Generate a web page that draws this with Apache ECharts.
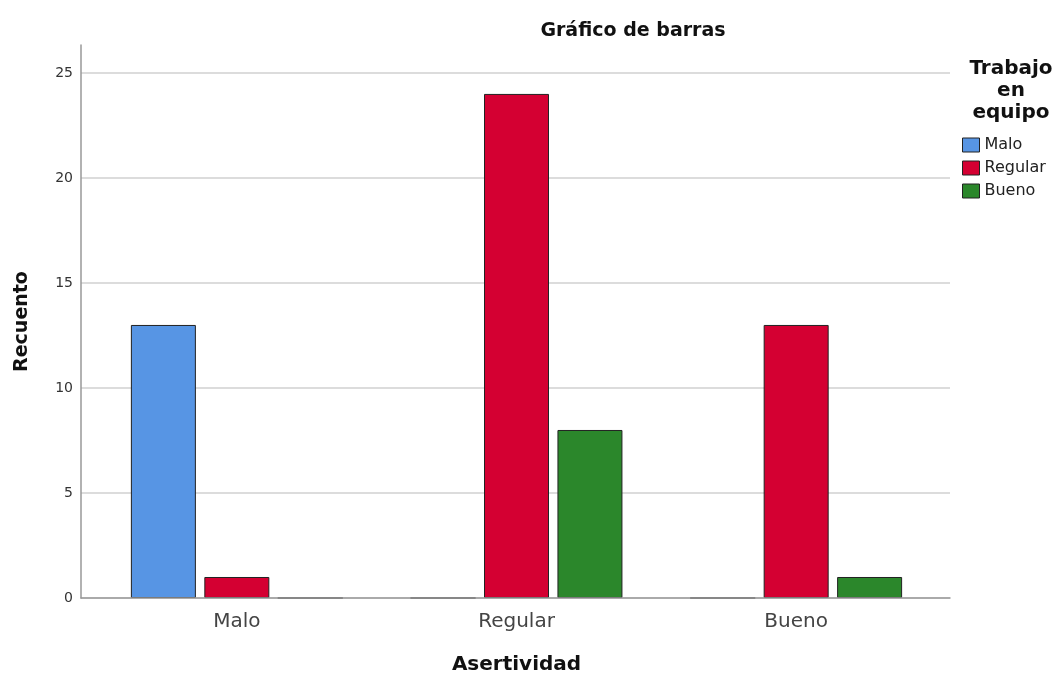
<!DOCTYPE html>
<html>
<head>
<meta charset="utf-8">
<script src="https://cdn.jsdelivr.net/npm/echarts@6/dist/echarts.min.js"></script>
<style>
html,body{margin:0;padding:0;background:#fff;}
#chart{width:1053px;height:674px;}
</style>
</head>
<body>
<div id="chart"></div>
<script>
var categories = ['Malo', 'Regular', 'Bueno'];
var seriesNames = ['Malo', 'Regular', 'Bueno'];
var valuesMalo = [13, 0, 0];
var valuesRegular = [1, 24, 13];
var valuesBueno = [0, 8, 1];
var yTicks = [0, 5, 10, 15, 20, 25];
var colors = ['#5795e4', '#d40032', '#2b872b'];

var FONT = '"DejaVu Sans", sans-serif';
var Y_MAX = 26.33;

var chart = echarts.init(document.getElementById('chart'), null, {renderer: 'canvas'});

function mkSeries(name, data, color) {
  return {
    name: name,
    type: 'bar',
    xAxisIndex: 0,
    yAxisIndex: 0,
    data: data,
    barWidth: 65,
    barGap: '13%',
    itemStyle: {color: color, borderColor: '#222', borderWidth: 1},
    emphasis: {disabled: true},
    animation: false
  };
}

var option = {
  animation: false,
  textStyle: {fontFamily: FONT},
  title: [
    {
      text: 'Gráfico de barras',
      left: 628, top: 17, textAlign: 'center',
      textStyle: {fontFamily: FONT, fontSize: 19, fontWeight: 'bold', color: '#111'}
    },
    {
      text: 'Trabajo\nen\nequipo',
      left: 1006, top: 53, textAlign: 'center',
      textStyle: {fontFamily: FONT, fontSize: 20, fontWeight: 'bold', color: '#111', lineHeight: 22}
    }
  ],
  legend: {
    orient: 'vertical',
    left: 962, top: 136,
    padding: 0,
    itemWidth: 17, itemHeight: 14, itemGap: 5,
    icon: 'rect',
    data: seriesNames,
    selectedMode: false,
    textStyle: {fontFamily: FONT, fontSize: 16, lineHeight: 18, color: '#222', padding: [0, 0, 0, 0]},
    itemStyle: {borderColor: '#222', borderWidth: 1}
  },
  grid: [
    {left: 97, right: 117, top: 45, bottom: 76, outerBoundsMode: 'none', containLabel: false},
    {left: 81, right: 103, top: 45, bottom: 76, outerBoundsMode: 'none', containLabel: false}
  ],
  xAxis: [
    {
      type: 'category', gridIndex: 0, data: categories,
      axisLine: {show: false}, axisTick: {show: false},
      axisLabel: {fontFamily: FONT, fontSize: 20, color: '#444', margin: 14},
      name: 'Asertividad', nameLocation: 'middle', nameGap: 57,
      nameTextStyle: {fontFamily: FONT, fontSize: 20, fontWeight: 'bold', color: '#111'}
    },
    {
      type: 'category', gridIndex: 1, data: categories, z: 10,
      axisLine: {show: true, lineStyle: {color: '#999', width: 1.5}},
      axisTick: {show: false}, axisLabel: {show: false}, splitLine: {show: false}
    }
  ],
  yAxis: [
    {
      type: 'value', gridIndex: 0, min: 0, max: Y_MAX,
      show: false
    },
    {
      type: 'value', gridIndex: 1, min: 0, max: Y_MAX, interval: 5,
      axisLine: {show: true, lineStyle: {color: '#999', width: 1.5}},
      axisTick: {show: false},
      axisLabel: {
        fontFamily: FONT, fontSize: 14, color: '#333', margin: 8,
        formatter: function (v) { return yTicks.indexOf(v) >= 0 ? String(v) : ''; }
      },
      splitLine: {show: true, lineStyle: {color: ['#d0d0d0','#d0d0d0','#d0d0d0','#d0d0d0','#d0d0d0','#d0d0d0','rgba(0,0,0,0)'], width: 1.5}},
      name: 'Recuento', nameLocation: 'middle', nameGap: 49, nameRotate: 90,
      nameTextStyle: {fontFamily: FONT, fontSize: 19, fontWeight: 'bold', color: '#111'}
    }
  ],
  series: [
    mkSeries(seriesNames[0], valuesMalo, colors[0]),
    mkSeries(seriesNames[1], valuesRegular, colors[1]),
    mkSeries(seriesNames[2], valuesBueno, colors[2])
  ]
};
chart.setOption(option);
</script>
</body>
</html>
